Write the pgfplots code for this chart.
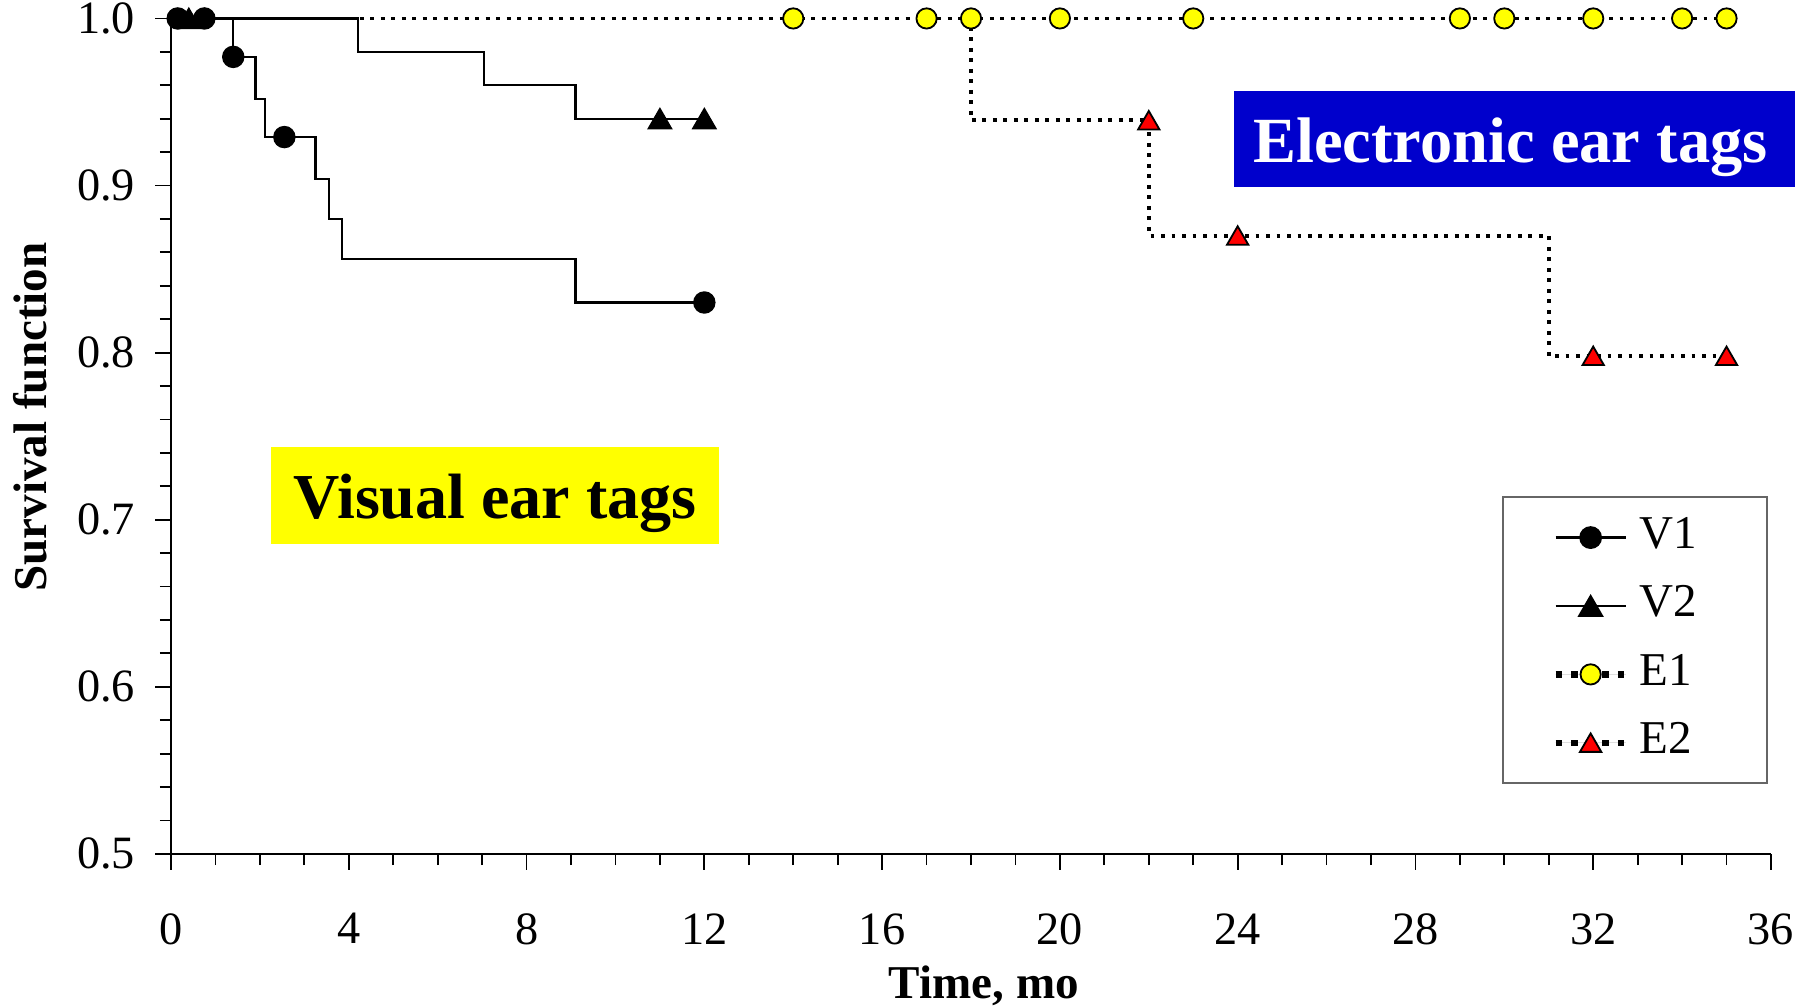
\documentclass[border=0pt]{standalone}
\usepackage{fontspec}
\setmainfont{Liberation Serif}
\usepackage{pgfplots}
\pgfplotsset{compat=1.18}
\definecolor{eblue}{RGB}{0,0,204}
\definecolor{tyellow}{RGB}{255,255,0}
\definecolor{tred}{RGB}{255,0,0}
\pgfplotsset{
  vleg/.style={legend image code/.code={\draw[black, line width=0.6pt] (0pt,0pt) -- (19.4pt,0pt); \draw[##1] plot coordinates {(9.7pt,0pt)};}},
  eleg/.style={legend image code/.code={\draw[black, line width=1.8pt, dash pattern=on 1.8pt off 2.5pt] (0pt,0pt) -- (19.4pt,0pt); \draw[##1] plot coordinates {(9.7pt,0pt)};}},
}
\begin{document}
\begin{tikzpicture}
\begin{axis}[
  scale only axis, width=442pt, height=230.8pt,
  xmin=0, xmax=36, ymin=0.5, ymax=1.0,
  clip=false,
  axis x line*=bottom, axis y line*=left,
  axis line style={-, line width=0.6pt},
  xtick={0,4,...,36}, minor x tick num=3,
  ytick={0.5,0.6,0.7,0.8,0.9,1.0}, minor y tick num=4,
  tick align=outside,
  major tick length=4.4pt, minor tick length=3.1pt,
  tick style={black, line width=0.5pt},
  /pgf/number format/assume math mode=true,
  yticklabel={\pgfmathprintnumber[fixed,fixed zerofill,precision=1]{\tick}},
  yticklabel style={font=\fontsize{12.8}{14}\selectfont, xshift=-2pt},
  xticklabel style={font=\fontsize{12.8}{14}\selectfont, yshift=-8.5pt},
  xlabel={Time, mo}, ylabel={Survival function},
  label style={font=\bfseries\fontsize{13}{15}\selectfont},
  xlabel style={at={(axis description cs:0.508,-0.158)}, anchor=center},
  ylabel style={at={(axis description cs:-0.088,0.523)}, anchor=center},
  legend style={at={(rel axis cs:0.915,0.2558)}, anchor=center,
    draw=black!60, line width=0.5pt, fill=white,
    inner xsep=13.7pt, inner ysep=5.1pt,
    row sep=6.9pt, column sep=3pt,
    nodes={inner sep=0pt, text height=9pt, text depth=3pt},
    font=\fontsize{13}{15}\selectfont},
  legend cell align=left,
]
% lines
\addplot[const plot, no marks, forget plot, black, line width=1.05pt, dash pattern=on 1.05pt off 1.85pt]
  coordinates {(0,1) (35,1)};
\addplot[const plot, no marks, forget plot, black, line width=1.05pt, dash pattern=on 1.05pt off 1.85pt]
  coordinates {(0,1) (18,0.939) (22,0.870) (31,0.798) (35,0.798)};
\addplot[const plot, no marks, forget plot, black, line width=0.6pt]
  coordinates {(0,1) (4.2,0.980) (7.05,0.960) (9.1,0.940) (12,0.940)};
\addplot[const plot, no marks, forget plot, black, line width=0.6pt]
  coordinates {(0,1) (1.4,0.977) (1.9,0.952) (2.12,0.929) (3.25,0.904) (3.55,0.880) (3.85,0.856) (9.1,0.830) (12,0.830)};
% marks
\addplot[only marks, mark=*, black, mark size=2.9pt, vleg]
  coordinates {(0.15,1) (0.75,1) (1.4,0.977) (2.55,0.929) (12,0.830)};
\addlegendentry{\makebox[21.5pt][l]{V1}}
\addplot[only marks, mark=triangle*, black, mark size=3.7pt, mark options={yshift=-0.9pt}, vleg]
  coordinates {(0.4,1) (11,0.94) (12,0.94)};
\addlegendentry{\makebox[21.5pt][l]{V2}}
\addplot[only marks, mark=*, draw=black, fill=tyellow, mark size=2.8pt, mark options={line width=0.5pt}, eleg]
  coordinates {(14,1) (17,1) (18,1) (20,1) (23,1) (29,1) (30,1) (32,1) (34,1) (35,1)};
\addlegendentry{\makebox[21.5pt][l]{E1}}
\addplot[only marks, mark=triangle*, draw=black, fill=tred, mark size=3.4pt, mark options={line width=0.5pt, yshift=-0.8pt}, eleg]
  coordinates {(22,0.939) (24,0.870) (32,0.798) (35,0.798)};
\addlegendentry{\makebox[21.5pt][l]{E2}}
% annotation boxes
\node[fill=tyellow, minimum width=123.7pt, minimum height=26.8pt, inner sep=0pt] at (axis cs:7.29,0.7146) {};
\node[font=\bfseries\fontsize{17.7}{20}\selectfont, inner sep=0pt, yshift=-2.3pt] at (axis cs:7.29,0.7146) {Visual ear tags};
\node[fill=eblue, minimum width=155pt, minimum height=26.5pt, inner sep=0pt] at (axis cs:30.22,0.9279) {};
\node[text=white, font=\bfseries\fontsize{17.8}{20}\selectfont, inner sep=0pt, yshift=-2.3pt, xshift=-1pt] at (axis cs:30.22,0.9279) {Electronic ear tags};
\coordinate (bbSW) at (rel axis cs:-0.1069,-0.1819);
\coordinate (bbNE) at (rel axis cs:1.0244,1.0221);
\end{axis}
\pgfresetboundingbox
\path[use as bounding box] (bbSW) rectangle (bbNE);
\end{tikzpicture}
\end{document}
